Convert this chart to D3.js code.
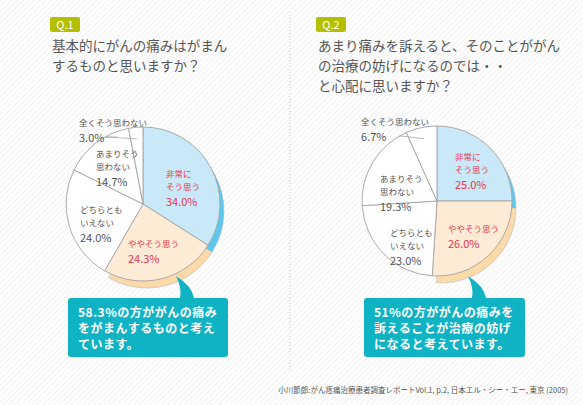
<!DOCTYPE html><html><head><meta charset="utf-8"><script src="https://d3js.org/d3.v7.min.js"></script>
<style>body{margin:0;background:#fff}svg{display:block;font-family:"Noto Sans CJK JP",sans-serif}</style></head><body><svg id="c" width="583" height="405"></svg>
<script>
const categories=["非常にそう思う","ややそう思う","どちらともいえない","あまりそう思わない","全くそう思わない"];
const q1Values=[34.0,24.3,24.0,14.7,3.0];
const q2Values=[25.0,26.0,23.0,19.3,6.7];
const labelLines=[["非常に","そう思う"],["ややそう思う"],["どちらとも","いえない"],["あまりそう","思わない"],["全くそう思わない"]];
const q1Title=["基本的にがんの痛みはがまん","するものと思いますか？"];
const q2Title=["あまり痛みを訴えると、そのことががん","の治療の妨げになるのでは・・","と心配に思いますか？"];
const q1Note=["58.3%の方ががんの痛み","をがまんするものと考え","ています。"];
const q2Note=["51%の方ががんの痛みを","訴えることが治療の妨げ","になると考えています。"];
const source="小川節郎:がん疼痛治療患者調査レポートVol.1, p.2, 日本エル・シー・エー, 東京 (2005)";
const svg=d3.select("#c");
const defs=svg.append("defs");
const pat=defs.append("pattern").attr("id","st").attr("width",4).attr("height",4).attr("patternUnits","userSpaceOnUse").attr("patternTransform","rotate(45)");
pat.append("rect").attr("width",4).attr("height",4).attr("fill","#fff");
pat.append("rect").attr("width",1).attr("height",4).attr("fill","#f1f1f1");
svg.append("rect").attr("width",583).attr("height",405).attr("fill","url(#st)");
svg.append("line").attr("x1",290).attr("x2",290).attr("y1",12).attr("y2",370).attr("stroke","#ccc").attr("stroke-dasharray","1,2");
const fills=["#c9e8f8","#fdebd6","#fff","#fff","#fff"];
const sh=["#5cc7ef","#fcd9a8"];
function chart(ox,q,title,vals,note,cx,cy,r,labs,box){
  const g=svg.append("g");
  g.append("rect").attr("x",ox).attr("y",17).attr("width",30).attr("height",15).attr("rx",2).attr("fill","#b3bf00");
  g.append("text").attr("x",ox+15).attr("y",29).attr("text-anchor","middle").attr("fill","#fff").attr("font-size",11).text(q);
  title.forEach((t,i)=>g.append("text").attr("x",ox+2).attr("y",51+i*20).attr("fill","#555").attr("font-size",13.5).text(t));
  const pie=d3.pie().sort(null).value(d=>d)(vals);
  const arc=d3.arc().innerRadius(0).outerRadius(r);
  const pg=g.append("g").attr("transform",`translate(${cx},${cy})`);
  [0,1].forEach(i=>pg.append("path").attr("d",arc(pie[i])).attr("transform","translate(4,7)").attr("fill",sh[i]).attr("stroke","#bbb").attr("stroke-width",0.6));
  pie.forEach((p,i)=>pg.append("path").attr("d",arc(p)).attr("fill",fills[i]).attr("stroke","#aaa").attr("stroke-width",1));
  pie.forEach((p,i)=>{
    const [lx,ly]=labs[i];const col=i<2?"#e8364e":"#555";
    const L=labelLines[i];
    L.forEach((t,k)=>g.append("text").attr("x",lx).attr("y",ly+k*13).attr("fill",col).attr("font-size",8.5).text(t));
    g.append("text").attr("x",lx).attr("y",ly+L.length*13+3).attr("fill",col).attr("font-size",11).text(vals[i].toFixed(1)+"%");
  });
  const a4=(pie[4].startAngle+pie[4].endAngle)/2;
  g.append("polyline").attr("points",`${labs[4][0]+38},${labs[4][1]+11} ${cx-r*0.85+28},${labs[4][1]+11} ${cx+Math.sin(a4)*r*0.85},${cy-Math.cos(a4)*r*0.85}`).attr("fill","none").attr("stroke","#999").attr("stroke-width",0.7);
  const [bx,by,bw,bh,px]=box;
  g.append("path").attr("d",`M${px-6},${by} Q${px-4},${by-10} ${px-10},${by-22} Q${px+6},${by-12} ${px+8},${by} Z`).attr("fill","#10b3c4");
  g.append("rect").attr("x",bx).attr("y",by).attr("width",bw).attr("height",bh).attr("rx",3).attr("fill","#10b3c4");
  note.forEach((t,i)=>g.append("text").attr("x",bx+10).attr("y",by+19+i*16).attr("fill","#fff").attr("font-size",12).attr("font-weight","bold").attr("letter-spacing",0.5).text(t));
}
chart(50,"Q.1",q1Title,q1Values,q1Note,143,204,77,[[166,177],[128,247],[80,213],[96,157],[79,126]],[68,298,160,59,186]);
chart(316,"Q.2",q2Title,q2Values,q2Note,437,201,75,[[455,160],[448,232],[390,236],[380,182],[361,125]],[364,298,161,59,478]);
svg.append("text").attr("x",568).attr("y",393).attr("text-anchor","end").attr("fill","#555").attr("font-size",7.5).text(source);
</script></body></html>
